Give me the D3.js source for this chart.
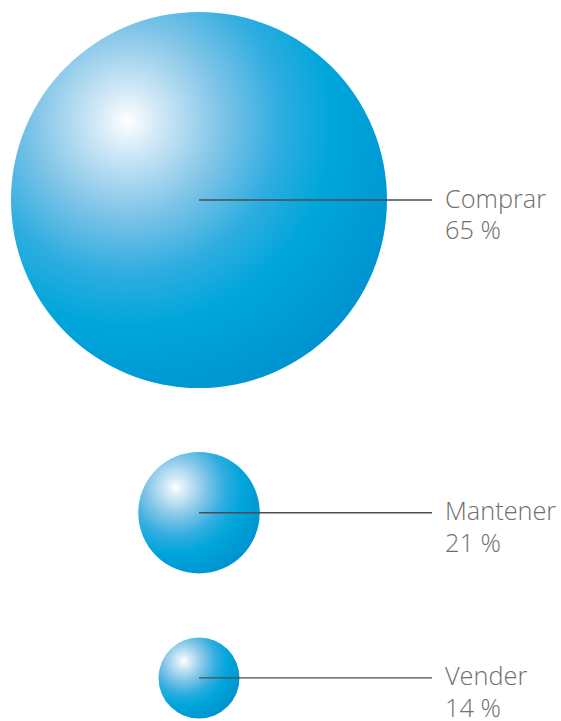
<!DOCTYPE html>
<html>
<head>
<meta charset="utf-8">
<script src="https://cdn.jsdelivr.net/npm/d3@7"></script>
<style>
  html, body { margin: 0; padding: 0; background: #fff; }
  svg { display: block; }
  .label { font-family: "Open Sans", "Noto Sans", sans-serif; font-weight: 300; font-size: 25.3px; fill: #6f6f6f; }
</style>
</head>
<body>
<div id="chart"></div>
<script>
var categories = ["Comprar", "Mantener", "Vender"];
var values = [65, 21, 14];
var valueLabels = ["65 %", "21 %", "14 %"];

var width = 561, height = 721;
var cx = 199, top0 = 12, gap = 64;
var lineEnd = 432, textX = 445;

var svg = d3.select("#chart").append("svg")
    .attr("width", width)
    .attr("height", height);

// radius grows linearly with the share
var r = d3.scaleLinear().domain([0, 65]).range([0, 188]);

// stack the spheres top to bottom with a fixed gap
var data = [];
var y = top0;
for (var i = 0; i < values.length; i++) {
    var rad = r(values[i]);
    data.push({ name: categories[i], value: values[i], label: valueLabels[i], r: rad, cy: y + rad });
    y += 2 * rad + gap;
}

var defs = svg.append("defs");
var grad = defs.append("radialGradient")
    .attr("id", "sphere")
    .attr("cx", 0.31).attr("cy", 0.29)
    .attr("fx", 0.31).attr("fy", 0.29)
    .attr("r", 0.78);
grad.append("stop").attr("offset", "0%").attr("stop-color", "#ffffff");
grad.append("stop").attr("offset", "10%").attr("stop-color", "#d4eaf7");
grad.append("stop").attr("offset", "32%").attr("stop-color", "#7fc4e7");
grad.append("stop").attr("offset", "52%").attr("stop-color", "#2fade0");
grad.append("stop").attr("offset", "70%").attr("stop-color", "#00a6db");
grad.append("stop").attr("offset", "100%").attr("stop-color", "#0093cf");

var g = svg.selectAll("g.ball")
    .data(data)
    .enter().append("g")
    .attr("class", "ball");

g.append("circle")
    .attr("cx", cx)
    .attr("cy", function(d) { return d.cy; })
    .attr("r", function(d) { return d.r; })
    .attr("fill", "url(#sphere)");

g.append("line")
    .attr("x1", cx)
    .attr("x2", lineEnd)
    .attr("y1", function(d) { return d.cy; })
    .attr("y2", function(d) { return d.cy; })
    .attr("stroke", "#4a4d50")
    .attr("stroke-width", 1.3);

var t = g.append("text")
    .attr("class", "label")
    .attr("x", textX)
    .attr("y", function(d) { return d.cy + 7.5; });
t.append("tspan").text(function(d) { return d.name; });
t.append("tspan")
    .attr("x", textX)
    .attr("dy", 31.5)
    .text(function(d) { return d.label; });
</script>
</body>
</html>
